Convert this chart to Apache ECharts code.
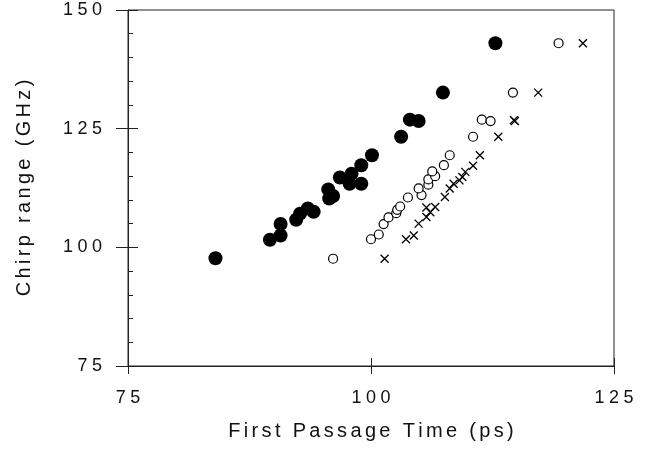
<!DOCTYPE html>
<html><head><meta charset="utf-8">
<script src="https://cdn.jsdelivr.net/npm/echarts@6/dist/echarts.min.js"></script>
<style>html,body{margin:0;padding:0;background:#fff}#c{width:652px;height:450px}</style>
</head><body><div id="c"></div>
<script>
const xTicks = [75, 100, 125];
const yTicks = [75, 100, 125, 150];
const xTitle = 'First Passage Time (ps)';
const yTitle = 'Chirp range (GHz)';

const filledX = [84.0, 89.6, 90.7, 90.7, 92.3, 92.7, 93.5, 94.1, 95.6, 96.1, 95.7, 96.8, 97.8, 98.0, 99.0, 99.0, 100.1, 103.1, 104.0, 104.9, 107.4, 112.8];
const filledY = [97.7, 101.6, 102.5, 104.9, 105.8, 107.1, 108.2, 107.5, 112.2, 110.8, 110.3, 114.7, 113.4, 115.5, 113.4, 117.3, 119.4, 123.3, 126.9, 126.6, 132.6, 143.0];

const openX = [96.1, 100.0, 100.8, 101.3, 101.8, 102.6, 102.7, 103.0, 103.8, 105.2, 104.9, 105.9, 105.9, 106.6, 106.3, 107.5, 108.1, 110.5, 111.4, 112.3, 114.6, 119.3];
const openY = [97.6, 101.7, 102.7, 104.9, 106.3, 107.2, 107.9, 108.6, 110.5, 111.0, 112.4, 113.2, 114.3, 115.0, 116.0, 117.3, 119.4, 123.3, 126.9, 126.6, 132.6, 143.0];

const crossX = [101.4, 103.6, 104.4, 104.9, 105.7, 105.7, 106.1, 106.6, 107.6, 108.1, 108.5, 109.1, 109.4, 109.7, 110.5, 111.2, 113.1, 114.7, 114.8, 117.2, 121.8];
const crossY = [97.6, 101.7, 102.5, 105.0, 106.4, 108.4, 107.4, 108.5, 110.6, 112.4, 113.4, 114.1, 114.8, 115.9, 117.2, 119.4, 123.3, 126.8, 126.6, 132.6, 143.0];

const zip = (a, b) => a.map((v, i) => [v, b[i]]);
const track = (s, sp) => String(s).split('').join(sp);
const tickFmt = v => track(v, '\u2005');
const font = 'Liberation Sans, Arial, sans-serif';
const axisCol = '#222';

const chart = echarts.init(document.getElementById('c'), null, {renderer: 'canvas'});
chart.setOption({
  animation: false,
  backgroundColor: '#fff',
  grid: {left: 128, right: 38, top: 10, bottom: 84, outerBoundsMode: 'none', containLabel: false,
         show: true, borderColor: axisCol, borderWidth: 1, backgroundColor: 'transparent'},
  xAxis: [{
    type: 'value', min: xTicks[0], max: xTicks[xTicks.length - 1], interval: 25,
    name: track(xTitle, '\u2006'), nameLocation: 'middle', nameGap: 55,
    nameTextStyle: {fontFamily: font, fontSize: 20, color: '#111'},
    axisLine: {show: true, lineStyle: {color: axisCol, width: 1}},
    axisTick: {show: true, inside: false, length: 8, lineStyle: {color: axisCol}},
    axisLabel: {fontFamily: font, fontSize: 18, color: '#111', margin: 23, formatter: tickFmt},
    splitLine: {show: false}
  }, {
    type: 'value', position: 'bottom', min: xTicks[0], max: xTicks[xTicks.length - 1], interval: 25,
    axisLine: {show: false},
    axisTick: {show: true, inside: true, length: 8, lineStyle: {color: axisCol}},
    axisLabel: {show: false}, splitLine: {show: false}
  }],
  yAxis: [{
    type: 'value', min: yTicks[0], max: yTicks[yTicks.length - 1], interval: 25,
    name: track(yTitle, '\u2006'), nameLocation: 'middle', nameGap: 94, nameRotate: 90,
    nameTextStyle: {fontFamily: font, fontSize: 20, color: '#111'},
    axisLine: {show: true, lineStyle: {color: axisCol, width: 1}},
    axisTick: {show: true, inside: false, length: 12, lineStyle: {color: axisCol}},
    axisLabel: {fontFamily: font, fontSize: 18, color: '#111', margin: 26, formatter: tickFmt},
    splitLine: {show: false}
  }, {
    type: 'value', position: 'left', min: yTicks[0], max: yTicks[yTicks.length - 1], interval: 25,
    axisLine: {show: false},
    axisTick: {show: true, inside: true, length: 10, lineStyle: {color: axisCol}},
    minorTick: {show: true, splitNumber: 5, length: 5, lineStyle: {color: axisCol}},
    axisLabel: {show: false}, splitLine: {show: false}
  }],
  series: [{
    type: 'scatter', data: zip(filledX, filledY), symbol: 'circle', symbolSize: 14,
    itemStyle: {color: '#000', opacity: 1}
  }, {
    type: 'scatter', data: zip(openX, openY), symbol: 'circle', symbolSize: 9,
    itemStyle: {color: '#fff', borderColor: '#000', borderWidth: 1.2, opacity: 1}
  }, {
    type: 'scatter', data: zip(crossX, crossY), symbol: 'path://M0,0L10,10M10,0L0,10', symbolSize: 8,
    itemStyle: {color: 'none', borderColor: '#000', borderWidth: 1.3, opacity: 1}
  }]
});
</script></body></html>
